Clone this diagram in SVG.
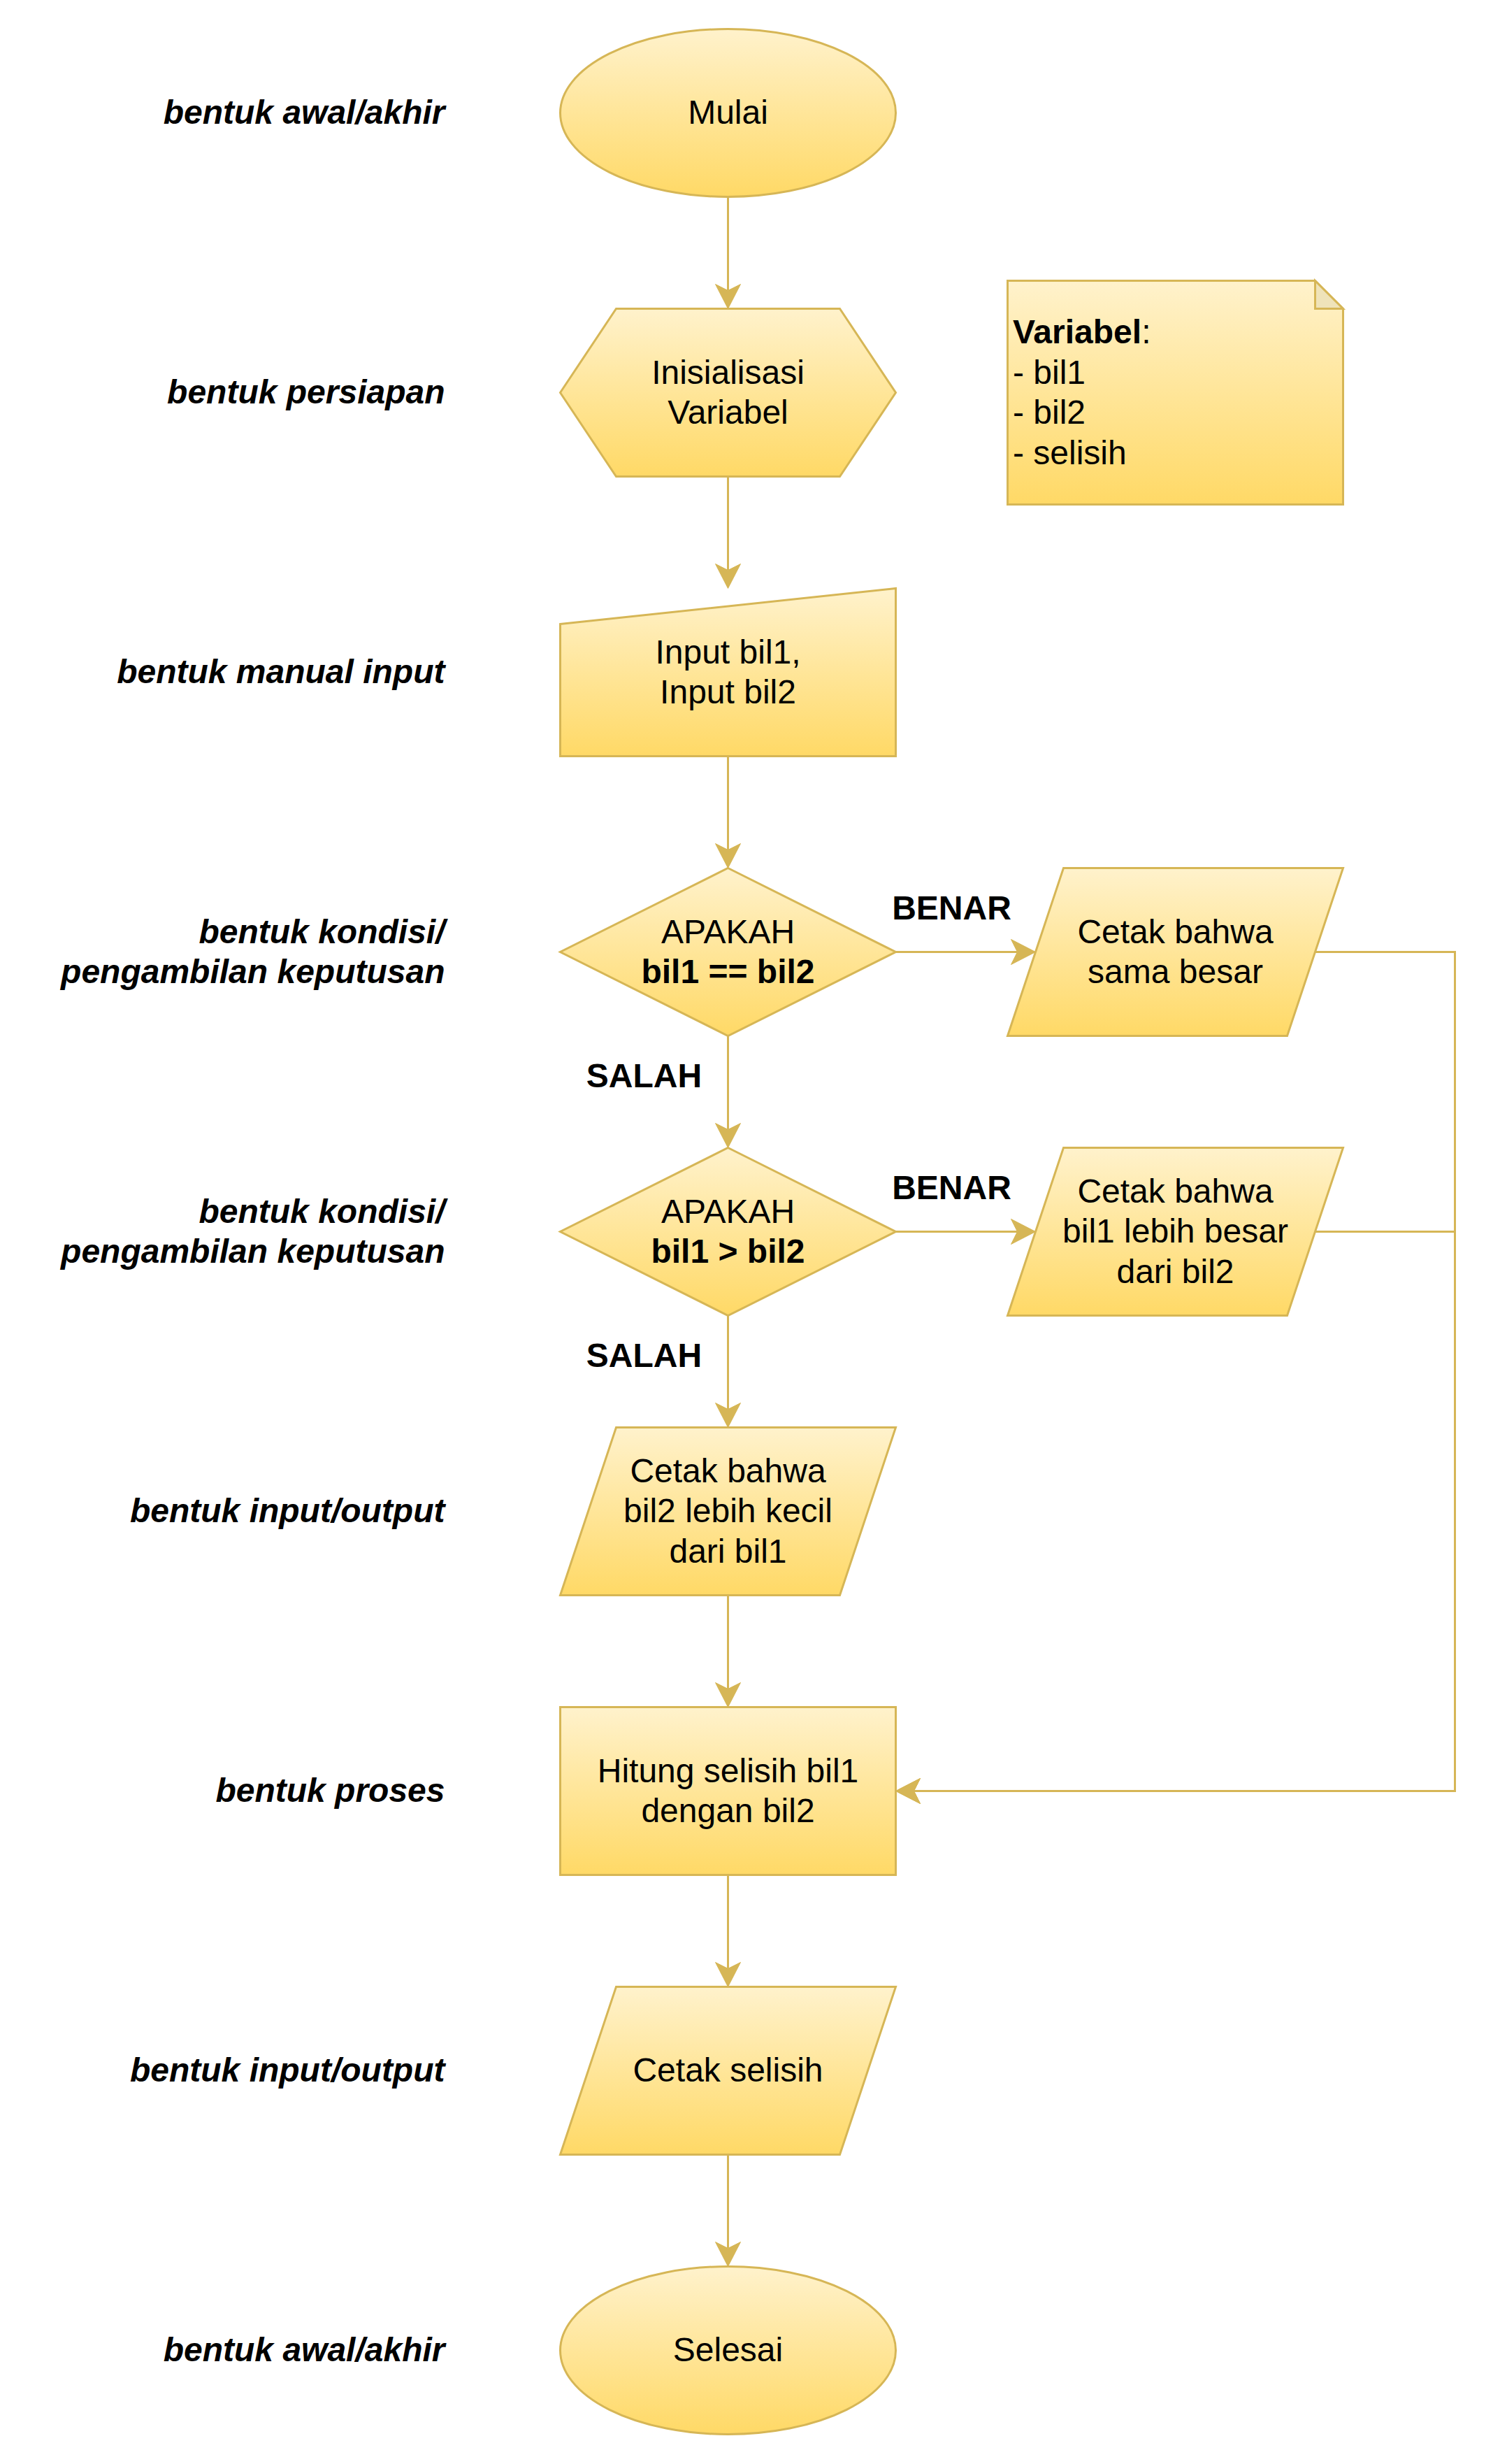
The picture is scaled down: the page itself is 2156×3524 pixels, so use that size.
<svg xmlns="http://www.w3.org/2000/svg" width="2156" height="3524" viewBox="0 0 2156 3524">
<style>
.shape{fill:url(#yg);stroke:#d6b656;stroke-width:3}
.edge{fill:none;stroke:#d6b656;stroke-width:3}
.t{font-family:"Liberation Sans",Arial,Helvetica,sans-serif;font-size:48px;fill:#000;text-anchor:middle}
.b{font-weight:bold}
.lbl{font-family:"Liberation Sans",Arial,Helvetica,sans-serif;font-size:48px;font-weight:bold;font-style:italic;fill:#000;text-anchor:end}
.el{font-family:"Liberation Sans",Arial,Helvetica,sans-serif;font-size:48px;font-weight:bold;fill:#000;text-anchor:middle}
.nt{font-family:"Liberation Sans",Arial,Helvetica,sans-serif;font-size:48px;fill:#000;text-anchor:start}
</style>
<defs>
<linearGradient id="yg" x1="0" y1="0" x2="0" y2="1">
<stop offset="0" stop-color="#fff2cc"/>
<stop offset="1" stop-color="#ffd966"/>
</linearGradient>
<marker id="arr" markerUnits="userSpaceOnUse" viewBox="-10 -20 38 40" markerWidth="38" markerHeight="40" refX="0" refY="0" orient="auto">
<path d="M26,0 L-9,-18 L0,0 L-9,18 Z" fill="#d6b656" stroke="#d6b656" stroke-width="1"/>
</marker>
</defs>
<rect width="2156" height="3524" fill="#ffffff"/>
<g transform="translate(1.5,1.5)">
<g id="labels">
<text class="lbl" x="635" y="175.8">bentuk awal/akhir</text>
<text class="lbl" x="635" y="575.8">bentuk persiapan</text>
<text class="lbl" x="635" y="975.8">bentuk manual input</text>
<text class="lbl" x="635" y="1347">bentuk kondisi/</text>
<text class="lbl" x="635" y="1404.6">pengambilan keputusan</text>
<text class="lbl" x="635" y="1747">bentuk kondisi/</text>
<text class="lbl" x="635" y="1804.6">pengambilan keputusan</text>
<text class="lbl" x="635" y="2175.8">bentuk input/output</text>
<text class="lbl" x="635" y="2575.8">bentuk proses</text>
<text class="lbl" x="635" y="2975.8">bentuk input/output</text>
<text class="lbl" x="635" y="3375.8">bentuk awal/akhir</text>
</g>
<g id="connectors">
<path class="edge" d="M1040,280 V414" marker-end="url(#arr)"/>
<path class="edge" d="M1040,680 V814" marker-end="url(#arr)"/>
<path class="edge" d="M1040,1080 V1214" marker-end="url(#arr)"/>
<path class="edge" d="M1040,1480 V1614" marker-end="url(#arr)"/>
<path class="edge" d="M1040,1880 V2014" marker-end="url(#arr)"/>
<path class="edge" d="M1040,2280 V2414" marker-end="url(#arr)"/>
<path class="edge" d="M1040,2680 V2814" marker-end="url(#arr)"/>
<path class="edge" d="M1040,3080 V3214" marker-end="url(#arr)"/>
<path class="edge" d="M1280,1360 H1454" marker-end="url(#arr)"/>
<path class="edge" d="M1280,1760 H1454" marker-end="url(#arr)"/>
<path class="edge" d="M1880,1360 H2080 V2560 H1306" marker-end="url(#arr)"/>
<path class="edge" d="M1880,1760 H2080 V2560 H1306" marker-end="url(#arr)"/>
<text class="el" x="1360" y="1313.5">BENAR</text>
<text class="el" x="1360" y="1713.5">BENAR</text>
<text class="el" x="920" y="1553.5">SALAH</text>
<text class="el" x="920" y="1953.5">SALAH</text>
</g>
<g id="mulai">
<ellipse class="shape" cx="1040" cy="160" rx="240" ry="120"/>
<text class="t" x="1040" y="175.8">Mulai</text>
</g>
<g id="inisialisasi">
<path class="shape" d="M800,560 L880,440 L1200,440 L1280,560 L1200,680 L880,680 Z"/>
<text class="t" x="1040" y="547">Inisialisasi</text>
<text class="t" x="1040" y="604.6">Variabel</text>
</g>
<g id="catatan">
<path class="shape" d="M1440,400 H1880 L1920,440 V720 H1440 Z"/>
<path d="M1880,400 V440 H1920 Z" fill="#efe3b9" stroke="#d6b656" stroke-width="3" stroke-linejoin="miter"/>
<text class="nt" x="1447.5" y="489.4"><tspan class="b">Variabel</tspan>:</text>
<text class="nt" x="1447.5" y="547">- bil1</text>
<text class="nt" x="1447.5" y="604.6">- bil2</text>
<text class="nt" x="1447.5" y="662.2">- selisih</text>
</g>
<g id="input">
<path class="shape" d="M800,891 L1280,840 L1280,1080 L800,1080 Z"/>
<text class="t" x="1040" y="947">Input bil1,</text>
<text class="t" x="1040" y="1004.6">Input bil2</text>
</g>
<g id="kondisi1">
<path class="shape" d="M1040,1240 L1280,1360 L1040,1480 L800,1360 Z"/>
<text class="t" x="1040" y="1347">APAKAH</text>
<text class="t b" x="1040" y="1404.6">bil1 == bil2</text>
</g>
<g id="cetak-sama">
<path class="shape" d="M1520,1240 H1920 L1840,1480 H1440 Z"/>
<text class="t" x="1680" y="1347">Cetak bahwa</text>
<text class="t" x="1680" y="1404.6">sama besar</text>
</g>
<g id="kondisi2">
<path class="shape" d="M1040,1640 L1280,1760 L1040,1880 L800,1760 Z"/>
<text class="t" x="1040" y="1747">APAKAH</text>
<text class="t b" x="1040" y="1804.6">bil1 &gt; bil2</text>
</g>
<g id="cetak-besar">
<path class="shape" d="M1520,1640 H1920 L1840,1880 H1440 Z"/>
<text class="t" x="1680" y="1718.2">Cetak bahwa</text>
<text class="t" x="1680" y="1775.8">bil1 lebih besar</text>
<text class="t" x="1680" y="1833.4">dari bil2</text>
</g>
<g id="cetak-kecil">
<path class="shape" d="M880,2040 H1280 L1200,2280 H800 Z"/>
<text class="t" x="1040" y="2118.2">Cetak bahwa</text>
<text class="t" x="1040" y="2175.8">bil2 lebih kecil</text>
<text class="t" x="1040" y="2233.4">dari bil1</text>
</g>
<g id="hitung">
<rect class="shape" x="800" y="2440" width="480" height="240"/>
<text class="t" x="1040" y="2547">Hitung selisih bil1</text>
<text class="t" x="1040" y="2604.6">dengan bil2</text>
</g>
<g id="cetak-selisih">
<path class="shape" d="M880,2840 H1280 L1200,3080 H800 Z"/>
<text class="t" x="1040" y="2975.8">Cetak selisih</text>
</g>
<g id="selesai">
<ellipse class="shape" cx="1040" cy="3360" rx="240" ry="120"/>
<text class="t" x="1040" y="3375.8">Selesai</text>
</g>
</g>
</svg>
